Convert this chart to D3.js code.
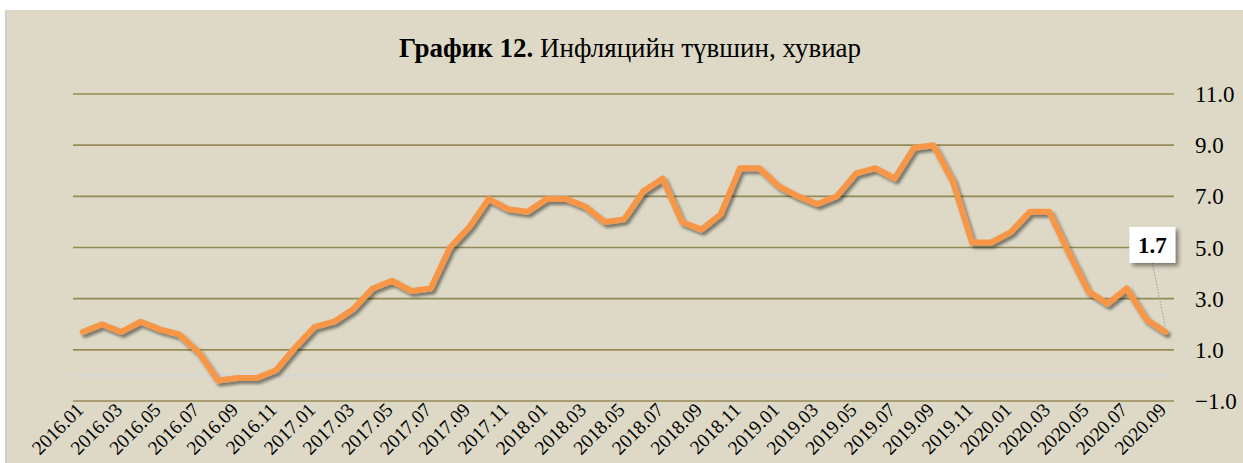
<!DOCTYPE html>
<html>
<head>
<meta charset="utf-8">
<script src="https://cdn.jsdelivr.net/npm/d3@7"></script>
<style>
  html, body { margin: 0; padding: 0; background: #ffffff; }
  svg { display: block; }
  text { font-family: "Liberation Serif", "Times New Roman", serif; }
</style>
</head>
<body>
<svg id="chart" width="1243" height="463"></svg>
<script>
const categories = [
  "2016.01","2016.02","2016.03","2016.04","2016.05","2016.06","2016.07","2016.08","2016.09","2016.10","2016.11","2016.12",
  "2017.01","2017.02","2017.03","2017.04","2017.05","2017.06","2017.07","2017.08","2017.09","2017.10","2017.11","2017.12",
  "2018.01","2018.02","2018.03","2018.04","2018.05","2018.06","2018.07","2018.08","2018.09","2018.10","2018.11","2018.12",
  "2019.01","2019.02","2019.03","2019.04","2019.05","2019.06","2019.07","2019.08","2019.09","2019.10","2019.11","2019.12",
  "2020.01","2020.02","2020.03","2020.04","2020.05","2020.06","2020.07","2020.08","2020.09"
];
const inflation = [
  1.7, 2.0, 1.7, 2.1, 1.8, 1.6, 0.9, -0.2, -0.1, -0.1, 0.2, 1.1,
  1.9, 2.1, 2.6, 3.4, 3.7, 3.3, 3.4, 5.0, 5.8, 6.9, 6.5, 6.4,
  6.9, 6.9, 6.6, 6.0, 6.1, 7.2, 7.7, 6.0, 5.7, 6.3, 8.1, 8.1,
  7.4, 7.0, 6.7, 7.0, 7.9, 8.1, 7.7, 8.9, 9.0, 7.6, 5.2, 5.2,
  5.6, 6.4, 6.4, 4.8, 3.3, 2.8, 3.4, 2.2, 1.7
];
const yTicks = [-1, 1, 3, 5, 7, 9, 11];
const xTickLabels = categories.filter((d, i) => i % 2 === 0);
const titleBold = "График 12.";
const titleRest = " Инфляцийн түвшин, хувиар";
const lastLabel = "1.7";

const svg = d3.select("#chart");
const W = 1243, H = 463;
const plot = { left: 73, right: 1175, top: 94, bottom: 401 };

// defs: shadows
const defs = svg.append("defs");
const f = defs.append("filter").attr("id", "shadow").attr("x", "-10%").attr("y", "-10%").attr("width", "120%").attr("height", "130%");
f.append("feDropShadow").attr("dx", 2.5).attr("dy", 3).attr("stdDeviation", 1.8)
  .attr("flood-color", "#000").attr("flood-opacity", 0.45);
const f2 = defs.append("filter").attr("id", "boxshadow").attr("x", "-30%").attr("y", "-30%").attr("width", "170%").attr("height", "170%");
f2.append("feDropShadow").attr("dx", 3).attr("dy", 3).attr("stdDeviation", 2)
  .attr("flood-color", "#000").attr("flood-opacity", 0.45);

// background
svg.append("rect").attr("x", 5).attr("y", 10).attr("width", W - 5).attr("height", H - 10)
  .attr("fill", "#DDD9C6");
svg.append("rect").attr("x", 5).attr("y", 10).attr("width", 2).attr("height", H - 10)
  .attr("fill", "#D2D0C8");

// scales
const x = d3.scaleBand().domain(categories).range([plot.left, plot.right]).padding(0);
const cx = d => x(d) + x.bandwidth() / 2;
const y = d3.scaleLinear().domain([-1, 11]).range([plot.bottom, plot.top]);

// gridlines
svg.append("g").selectAll("line").data(yTicks).join("line")
  .attr("x1", plot.left).attr("x2", plot.right - 1)
  .attr("y1", d => y(d)).attr("y2", d => y(d))
  .attr("stroke", "#948A54").attr("stroke-width", 1.6);

// zero line (category axis)
svg.append("line")
  .attr("x1", plot.left).attr("x2", plot.right - 2)
  .attr("y1", y(0)).attr("y2", y(0))
  .attr("stroke", "#D6D6D4").attr("stroke-width", 2.5);

// y axis on the right
const yAxis = d3.axisRight(y).tickValues(yTicks).tickSize(0).tickPadding(0)
  .tickFormat(d3.format(".1f"));
const gy = svg.append("g").attr("transform", `translate(${1195},0)`).call(yAxis);
gy.select(".domain").remove();
gy.selectAll("text").attr("font-size", 23).attr("fill", "#000")
  .attr("font-family", "Liberation Serif, serif").attr("dy", "0.33em").attr("text-anchor", "start");

// x axis labels
const xAxis = d3.axisBottom(x).tickValues(xTickLabels).tickSize(0).tickPadding(0);
const gx = svg.append("g").attr("transform", `translate(0,${plot.bottom})`).call(xAxis);
gx.select(".domain").remove();
gx.selectAll("text")
  .attr("font-size", 19.5).attr("fill", "#000").attr("font-family", "Liberation Serif, serif")
  .attr("text-anchor", "end")
  .attr("dy", 0).attr("y", 0)
  .attr("transform", "translate(2,10) rotate(-45)");

// line
const line = d3.line().x((d, i) => cx(categories[i])).y(d => y(d));
svg.append("path").datum(inflation)
  .attr("d", line)
  .attr("fill", "none").attr("stroke", "#F79646").attr("stroke-width", 6)
  .attr("stroke-linejoin", "round").attr("stroke-linecap", "round")
  .attr("filter", "url(#shadow)");

// last value annotation
const lastI = inflation.length - 1;
const px = cx(categories[lastI]), py = y(inflation[lastI]);
const bw = 46, bh = 36;
const bx = px - 36, by = py - 105;
svg.append("line")
  .attr("x1", bx + bw / 2).attr("y1", by + bh)
  .attr("x2", px).attr("y2", py - 5)
  .attr("stroke", "#9a9a9a").attr("stroke-width", 1).attr("stroke-dasharray", "1.5,1.5");
svg.append("rect").attr("x", bx).attr("y", by).attr("width", bw).attr("height", bh)
  .attr("fill", "#fff").attr("filter", "url(#boxshadow)");
svg.append("text").attr("x", bx + bw / 2).attr("y", by + bh / 2).attr("dy", "0.35em")
  .attr("text-anchor", "middle").attr("font-size", 23).attr("font-weight", "bold")
  .text(lastLabel);

// title
const t = svg.append("text").attr("x", 630).attr("y", 57).attr("text-anchor", "middle")
  .attr("font-size", 27).attr("fill", "#000");
t.append("tspan").attr("font-weight", "bold").text(titleBold);
t.append("tspan").text(titleRest);
</script>
</body>
</html>
